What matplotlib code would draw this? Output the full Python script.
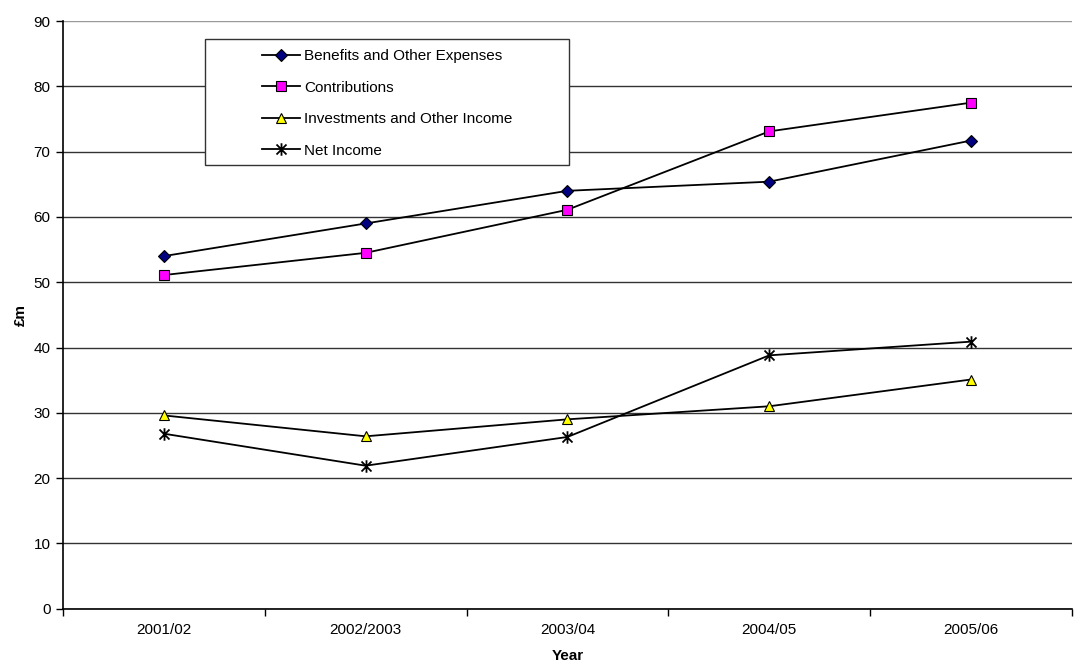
import matplotlib.pyplot as plt
from matplotlib.path import Path
from matplotlib.patches import Rectangle

plt.rcParams['font.family'] = ['Liberation Sans', 'DejaVu Sans']

# Pension fund figures, £m
years = ['2001/02', '2002/2003', '2003/04', '2004/05', '2005/06']
benefits = [54.0, 59.0, 64.0, 65.4, 71.7]
contributions = [51.1, 54.5, 61.1, 73.1, 77.5]
investments = [29.6, 26.4, 29.0, 31.0, 35.1]
net_income = [26.8, 21.9, 26.3, 38.8, 40.9]

# asterisk marker: an x with a vertical stroke through it
star = Path([(-1, -1), (1, 1), (-1, 1), (1, -1), (0, -1.25), (0, 1.25)],
            [Path.MOVETO, Path.LINETO, Path.MOVETO, Path.LINETO, Path.MOVETO, Path.LINETO])

fig = plt.figure(figsize=(10.86, 6.64), dpi=100)
ax = fig.add_axes([0.058, 0.0833, 0.929, 0.885])

x = list(range(len(years)))
ax.plot(x, benefits, color='black', lw=1.3, marker='D', ms=6,
        mfc='#000080', mec='black', mew=0.8, label='Benefits and Other Expenses')
ax.plot(x, contributions, color='black', lw=1.3, marker='s', ms=7,
        mfc='#FF00FF', mec='black', mew=0.8, label='Contributions')
ax.plot(x, investments, color='black', lw=1.3, marker='^', ms=7,
        mfc='#FFFF00', mec='black', mew=0.8, label='Investments and Other Income')
ax.plot(x, net_income, color='black', lw=1.3, marker=star, ms=9,
        mfc='black', mec='black', mew=1.3, label='Net Income')

# axes and gridlines
ax.set_xlim(-0.5, len(years) - 0.5)
ax.set_ylim(0, 90)
ax.set_yticks(range(0, 91, 10))
ax.set_xticks(x)
ax.set_xticklabels(years)
ax.set_xticks([i - 0.5 for i in range(len(years) + 1)], minor=True)
ax.tick_params(axis='x', which='major', length=0, labelsize=11, pad=10)
ax.tick_params(axis='x', which='minor', length=5, width=1, color='black', direction='out')
ax.tick_params(axis='y', length=5, width=1, labelsize=11, pad=4)
ax.yaxis.grid(True, color='#333333', lw=1)
ax.get_ygridlines()[-1].set_color('#999999')
ax.set_axisbelow(True)
for side in ['top', 'right']:
    ax.spines[side].set_visible(False)
for side in ['left', 'bottom']:
    ax.spines[side].set_linewidth(1.2)
    ax.spines[side].set_color('black')

ax.set_xlabel('Year', fontsize=11, fontweight='bold', labelpad=9)
ax.set_ylabel('£m', fontsize=11, fontweight='bold', labelpad=4)

# legend box drawn separately so it can sit wider than the entries
W, H = fig.get_size_inches() * fig.dpi
box = Rectangle((205 / W, 1 - 165 / H), 364 / W, 126 / H, transform=fig.transFigure,
                facecolor='white', edgecolor='#333333', lw=1, zorder=5)
fig.patches.append(box)
leg = fig.legend(loc='upper left', bbox_to_anchor=(262 / W, 1 - 49 / H),
                 fontsize=11, frameon=False, borderpad=0, labelspacing=1.15,
                 handlelength=2.5, handletextpad=0.25, borderaxespad=0)
leg.set_zorder(6)

fig.savefig('out.png', dpi=100)
